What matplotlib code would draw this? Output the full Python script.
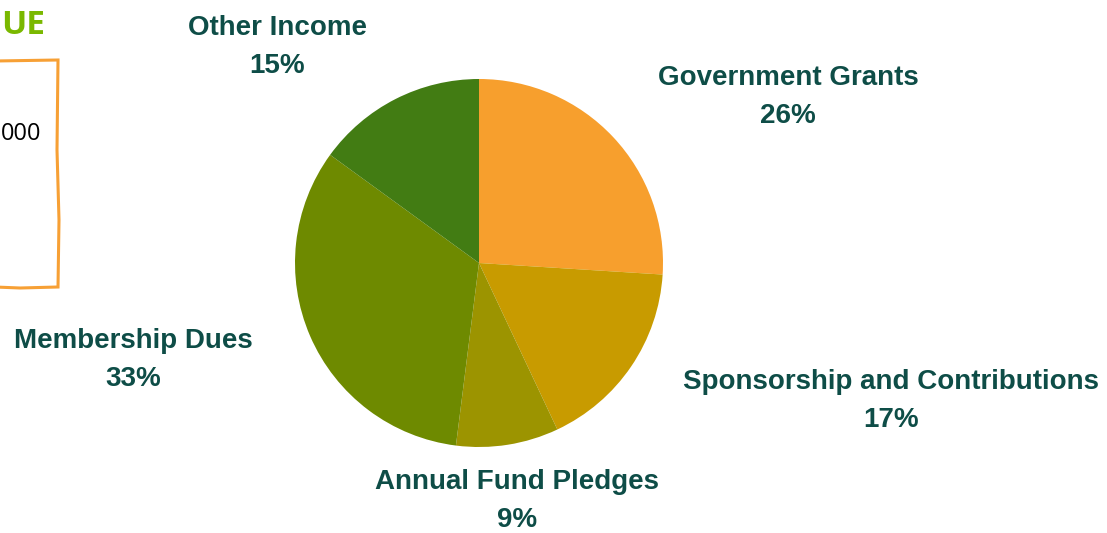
import matplotlib.pyplot as plt
from matplotlib.patches import Polygon

# revenue breakdown, clockwise from 12 o'clock
sources = ['Government Grants', 'Sponsorship and Contributions',
           'Annual Fund Pledges', 'Membership Dues', 'Other Income']
shares = [26, 17, 9, 33, 15]
colors = ['#F79F2D', '#C89B00', '#9C9400', '#6E8A00', '#427C13']

W, H = 1107, 533
fig = plt.figure(figsize=(W / 100, H / 100), dpi=100)
fig.patch.set_facecolor('white')

# pie placed by pixel centre / radius
cx, cy, r = 479, 263, 184
ax = fig.add_axes([(cx - r) / W, (H - cy - r) / H, 2 * r / W, 2 * r / H])
ax.pie(shares, colors=colors, startangle=90, counterclock=False,
       wedgeprops=dict(linewidth=0))
ax.set_xlim(-1, 1)
ax.set_ylim(-1, 1)
ax.set_aspect('equal')
ax.axis('off')

# label block centres in pixels (x, y from top)
label_pos = [(788, 97), (891, 401), (517, 501), (133, 360), (277, 47)]
teal = '#0E4D47'
for name, pct, (px, py) in zip(sources, shares, label_pos):
    fig.text(px / W, 1 - py / H, f'{name}\n{pct}%', ha='center', va='center',
             fontsize=20, fontweight='bold', color=teal,
             family='Liberation Sans', linespacing=1.62)

# heading and value box on the left
fig.text(1 / W, 1 - 25 / H, 'UE', ha='left', va='center', fontsize=24,
         fontweight='bold', color='#7AB800', family='Open Sans')
fig.text(1 / W, 1 - 134 / H, '000', ha='left', va='center', fontsize=17,
         color='black', family='Open Sans')
box = [(-5, 61), (58, 60), (57, 150), (59, 220), (58, 287), (20, 288), (-5, 287)]
fig.add_artist(Polygon([(x / W, 1 - y / H) for x, y in box], closed=False,
                       fill=False, edgecolor='#F7A035', linewidth=2.2,
                       transform=fig.transFigure))

fig.savefig('out.png', dpi=100)
